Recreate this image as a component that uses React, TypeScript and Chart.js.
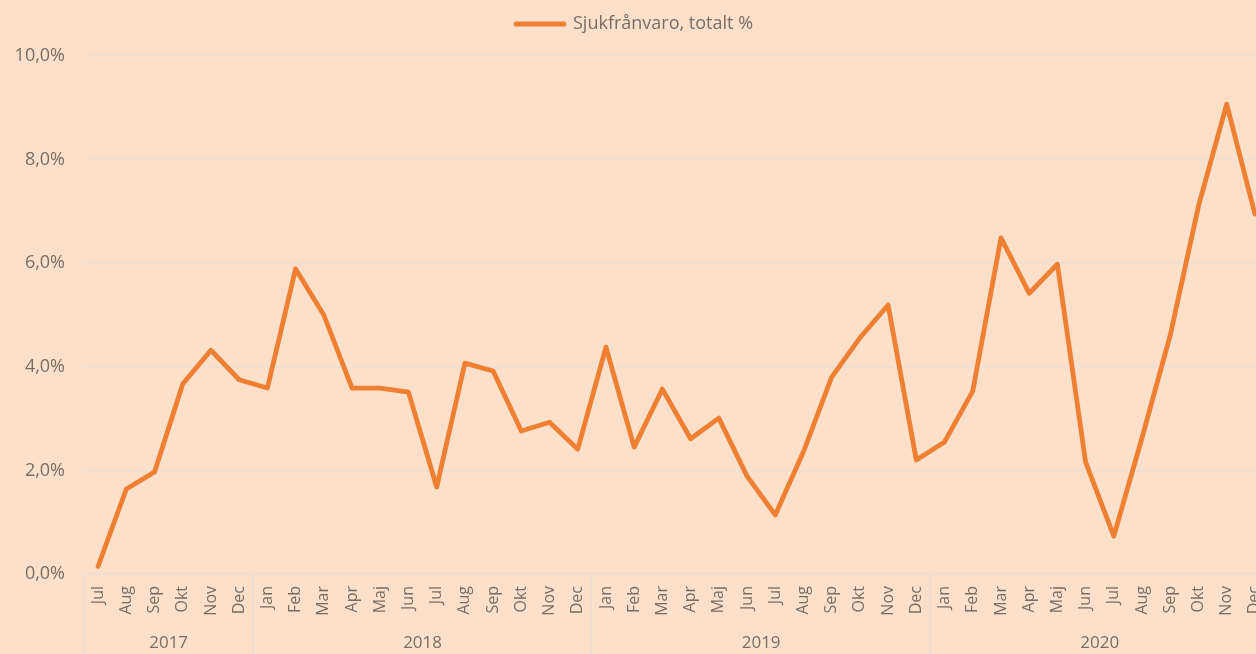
import React, { useEffect, useRef } from "react";
import { Chart, registerables } from "chart.js";

Chart.register(...registerables);

const monthLabels = [
  "Jul", "Aug", "Sep", "Okt", "Nov", "Dec",
  "Jan", "Feb", "Mar", "Apr", "Maj", "Jun", "Jul", "Aug", "Sep", "Okt", "Nov", "Dec",
  "Jan", "Feb", "Mar", "Apr", "Maj", "Jun", "Jul", "Aug", "Sep", "Okt", "Nov", "Dec",
  "Jan", "Feb", "Mar", "Apr", "Maj", "Jun", "Jul", "Aug", "Sep", "Okt", "Nov", "Dec",
];

const yearLabels = ["2017", "2018", "2019", "2020"];
const monthsPerYear = [6, 12, 12, 12];

const sickLeave = [
  0.15, 1.64, 1.97, 3.67, 4.32, 3.75,
  3.59, 5.89, 5.0, 3.59, 3.59, 3.51, 1.68, 4.07, 3.92, 2.76, 2.93, 2.41,
  4.38, 2.45, 3.57, 2.61, 3.01, 1.89, 1.14, 2.36, 3.8, 4.56, 5.19, 2.2,
  2.55, 3.53, 6.49, 5.42, 5.98, 2.16, 0.73, 2.63, 4.61, 7.1, 9.07, 6.95,
];

const seriesName = "Sjukfrånvaro, totalt %";

const BG = "#fde0ca";
const TEXT = "#786d66";
const GRID = "#ebdfd6";
const LINE = "#ee7f33";
const FONT = "'Open Sans', sans-serif";

const legendSpacePlugin = {
  id: "legendSpace",
  beforeLayout(chart: any) {
    const lg = chart.legend;
    if (lg && !lg._spacePatched) {
      const orig = lg.fit.bind(lg);
      lg.fit = function () {
        orig();
        this.height += 13;
      };
      lg._spacePatched = true;
    }
  },
};

const yearGroupsPlugin = {
  id: "yearGroups",
  afterDraw(chart: any) {
    const { ctx, chartArea, scales } = chart;
    const x = scales.x;
    const h = chart.height;
    const bounds: number[] = [chartArea.left];
    let idx = 0;
    monthsPerYear.forEach((n) => {
      idx += n;
      if (idx < monthLabels.length) {
        bounds.push((x.getPixelForValue(idx - 1) + x.getPixelForValue(idx)) / 2);
      } else {
        bounds.push(chartArea.right);
      }
    });
    ctx.save();
    ctx.strokeStyle = GRID;
    ctx.lineWidth = 1.5;
    for (let i = 0; i < bounds.length - 1; i++) {
      ctx.beginPath();
      ctx.moveTo(bounds[i], chartArea.bottom);
      ctx.lineTo(bounds[i], h);
      ctx.stroke();
    }
    ctx.fillStyle = TEXT;
    ctx.font = `17px ${FONT}`;
    ctx.textAlign = "center";
    ctx.textBaseline = "middle";
    yearLabels.forEach((y, i) => {
      ctx.fillText(y, (bounds[i] + bounds[i + 1]) / 2, 643);
    });
    ctx.restore();
  },
};

export default function App() {
  const ref = useRef<HTMLCanvasElement>(null);

  useEffect(() => {
    if (!ref.current) return;
    const chart = new Chart(ref.current, {
      type: "line",
      data: {
        labels: monthLabels,
        datasets: [
          {
            label: seriesName,
            data: sickLeave,
            borderColor: LINE,
            backgroundColor: LINE,
            borderWidth: 4.8,
            pointRadius: 0,
            tension: 0,
            borderJoinStyle: "round",
            borderCapStyle: "round",
          },
        ],
      },
      options: {
        animation: false,
        responsive: false,
        layout: { padding: { top: 4, right: 21, bottom: 0, left: 0 } },
        plugins: {
          tooltip: { enabled: false },
          legend: {
            position: "top",
            labels: {
              color: TEXT,
              font: { family: FONT, size: 18 },
              usePointStyle: true,
              pointStyleWidth: 48,
              padding: 11,
              generateLabels: () => [
                {
                  text: seriesName,
                  fillStyle: LINE,
                  strokeStyle: LINE,
                  lineWidth: 5,
                  pointStyle: "line",
                  lineCap: "round",
                  datasetIndex: 0,
                  hidden: false,
                  fontColor: TEXT,
                } as any,
              ],
            },
          },
        },
        scales: {
          x: {
            offset: true,
            grid: { display: false, drawTicks: false, offset: true },
            border: { display: false },
            ticks: {
              color: TEXT,
              font: { family: FONT, size: 16 },
              minRotation: 90,
              maxRotation: 90,
              autoSkip: false,
              padding: 12,
            },
            afterFit: (s: any) => {
              s.height = 80;
            },
          },
          y: {
            min: 0,
            max: 10,
            grid: { color: GRID, lineWidth: 1.5, drawTicks: false },
            border: { display: false },
            ticks: {
              stepSize: 2,
              color: TEXT,
              font: { family: FONT, size: 18 },
              padding: 19,
              callback: (v: any) => Number(v).toFixed(1).replace(".", ",") + "%",
            },
            afterFit: (s: any) => {
              s.width = 84;
            },
          },
        },
      },
      plugins: [legendSpacePlugin, yearGroupsPlugin],
    });
    return () => chart.destroy();
  }, []);

  return (
    <div
      style={{
        position: "fixed",
        left: 0,
        top: 0,
        width: 1256,
        height: 654,
        overflow: "hidden",
        background: BG,
      }}
    >
      <canvas ref={ref} width={1290} height={654} style={{ display: "block" }} />
    </div>
  );
}
